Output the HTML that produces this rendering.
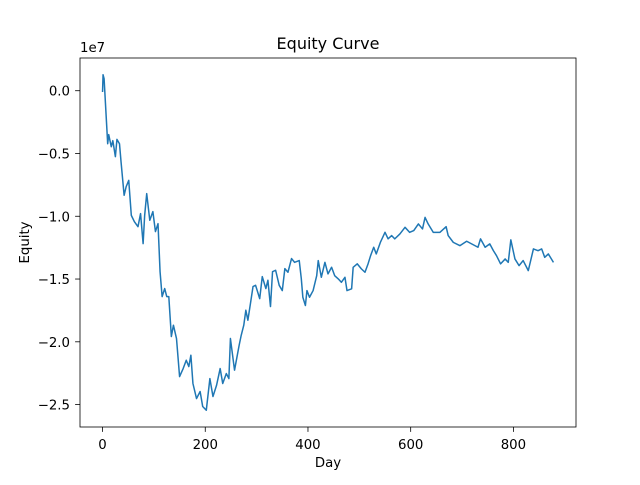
<!DOCTYPE html>
<html><head><meta charset="utf-8"><style>
body{margin:0;background:#fff;}
svg text{font-family:"DejaVu Sans","Liberation Sans",sans-serif;fill:#000;}
</style></head><body>
<svg id="chart" width="640" height="480" xmlns="http://www.w3.org/2000/svg">
<rect width="640" height="480" fill="#fff"/>
<g id="plot"></g>
</svg>
<script>
const days=[0,1,3,10,12,17,20,25,28,33,36,42,46,51,56,62,69,74,79,82,86,92,98,103,108,112,116,121,125,129,134,138,144,150,157,163,168,172,176,183,190,195,202,209,215,222,229,234,241,246,249,257,266,270,275,279,283,288,293,298,306,311,318,322,327,331,337,344,350,355,361,368,374,383,387,390,395,398,403,410,417,420,426,433,439,446,452,459,465,472,476,485,488,496,504,511,517,522,528,533,541,550,556,563,569,579,589,598,606,615,623,628,634,644,657,669,673,683,696,709,731,736,745,754,761,767,775,784,790,795,803,811,819,829,839,848,855,861,868,878];
const equityE7=[-0.01,0.127,0.096,-0.422,-0.35,-0.446,-0.398,-0.525,-0.388,-0.422,-0.565,-0.833,-0.764,-0.714,-0.993,-1.043,-1.083,-0.979,-1.218,-0.993,-0.82,-1.032,-0.963,-1.122,-1.059,-1.441,-1.64,-1.576,-1.64,-1.64,-1.958,-1.868,-1.974,-2.277,-2.213,-2.147,-2.197,-2.107,-2.332,-2.452,-2.396,-2.515,-2.545,-2.293,-2.436,-2.346,-2.213,-2.332,-2.253,-2.293,-1.974,-2.226,-2.027,-1.948,-1.868,-1.749,-1.828,-1.695,-1.56,-1.55,-1.656,-1.481,-1.576,-1.51,-1.719,-1.441,-1.43,-1.55,-1.592,-1.417,-1.446,-1.337,-1.367,-1.353,-1.496,-1.645,-1.711,-1.592,-1.645,-1.592,-1.473,-1.353,-1.486,-1.367,-1.459,-1.406,-1.473,-1.499,-1.526,-1.486,-1.592,-1.578,-1.407,-1.379,-1.419,-1.446,-1.379,-1.313,-1.247,-1.3,-1.208,-1.128,-1.18,-1.154,-1.18,-1.141,-1.088,-1.128,-1.114,-1.061,-1.101,-1.009,-1.061,-1.128,-1.128,-1.083,-1.154,-1.208,-1.234,-1.199,-1.247,-1.18,-1.247,-1.22,-1.274,-1.313,-1.379,-1.34,-1.367,-1.188,-1.34,-1.393,-1.353,-1.433,-1.26,-1.274,-1.26,-1.327,-1.3,-1.367];
const xTicks=[0,200,400,600,800];
const yTicks=[0,-0.5,-1.0,-1.5,-2.0,-2.5];
const yTickLabels=["0.0","−0.5","−1.0","−1.5","−2.0","−2.5"];

const NS="http://www.w3.org/2000/svg";
const L=80,R=576,T=58,B=427;
const dmin=Math.min(...days),dmax=Math.max(...days),dsp=dmax-dmin;
const emin=Math.min(...equityE7),emax=Math.max(...equityE7),esp=emax-emin;
const x0=dmin-0.05*dsp,x1=dmax+0.05*dsp,y0=emin-0.05*esp,y1=emax+0.05*esp;
const sx=v=>L+(v-x0)/(x1-x0)*(R-L);
const sy=v=>B-(v-y0)/(y1-y0)*(B-T);
const g=document.getElementById('plot');
function mk(tag,attrs,parent){const e=document.createElementNS(NS,tag);for(const k in attrs)e.setAttribute(k,attrs[k]);(parent||g).appendChild(e);return e;}

const line=mk('polyline',{points:days.map((d,i)=>sx(d).toFixed(2)+','+sy(equityE7[i]).toFixed(2)).join(' '),fill:'none',stroke:'#1f77b4','stroke-width':1.5,'stroke-linejoin':'round'});



const frame=mk('rect',{x:L,y:T,width:R-L,height:B-T,fill:'none',stroke:'#000','stroke-width':0.8});



xTicks.forEach(v=>{
  const X=sx(v);
  const t=mk('line',{x1:X,x2:X,y1:B,y2:B+4.9,stroke:'#000','stroke-width':0.8});
  
  
  const lb=mk('text',{x:X,y:B+22,'text-anchor':'middle','font-size':13.3});
  lb.textContent=String(v);
  
  
});
yTicks.forEach((v,i)=>{
  const Y=sy(v);
  const t=mk('line',{x1:L-4.9,x2:L,y1:Y,y2:Y,stroke:'#000','stroke-width':0.8});
  
  
  const lb=mk('text',{x:L-10,y:Y+5,'text-anchor':'end','font-size':13.3});
  lb.textContent=yTickLabels[i];
  
  
});
const off=mk('text',{x:L,y:T-6,'font-size':13.3});
off.textContent='1e7';


const title=mk('text',{x:(L+R)/2,y:T-9,'text-anchor':'middle','font-size':16});
title.textContent='Equity Curve';


const xl=mk('text',{x:(L+R)/2,y:467,'text-anchor':'middle','font-size':13.3});
xl.textContent='Day';


const yl=mk('text',{x:0,y:0,'text-anchor':'middle','font-size':13.3,transform:'translate(29,'+((T+B)/2)+') rotate(-90)'});
yl.textContent='Equity';


</script>
</body></html>
